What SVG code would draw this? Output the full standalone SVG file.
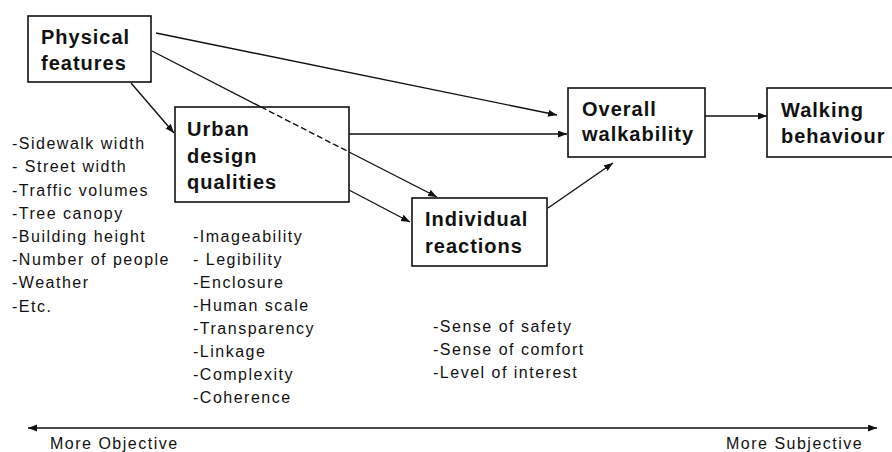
<svg xmlns="http://www.w3.org/2000/svg" width="892" height="452" viewBox="0 0 892 452">
  <style>
    .box { fill: #ffffff; stroke: #111111; stroke-width: 1.6; }
    .title { font-family: "Liberation Sans", Arial, sans-serif; font-size: 20px; font-weight: bold; letter-spacing: 1px; fill: #111111; }
    .item { font-family: "Liberation Sans", Arial, sans-serif; font-size: 16px; letter-spacing: 1.5px; fill: #111111; }
    .link { fill: none; stroke: #111111; stroke-width: 1.4; }
    .dash { stroke-dasharray: 6 3; }
  </style>
  <defs>
    <marker id="arrow" markerUnits="userSpaceOnUse" markerWidth="10" markerHeight="8" refX="9" refY="3.5" orient="auto-start-reverse">
      <path d="M0,0 L9,3.5 L0,7 z" fill="#111111"/>
    </marker>
  </defs>

  <rect width="892" height="452" fill="#ffffff"/>

  <!-- nodes -->
  <g id="physical-features">
    <rect class="box" x="28" y="16" width="123" height="66"/>
    <text class="title" x="41" y="44">Physical</text>
    <text class="title" x="41" y="70">features</text>
  </g>

  <g id="urban-design-qualities">
    <rect class="box" x="175" y="107" width="174" height="95"/>
    <text class="title" x="187" y="136">Urban</text>
    <text class="title" x="187" y="163">design</text>
    <text class="title" x="187" y="189">qualities</text>
  </g>

  <g id="individual-reactions">
    <rect class="box" x="412" y="198" width="135" height="68"/>
    <text class="title" x="425" y="226">Individual</text>
    <text class="title" x="425" y="253">reactions</text>
  </g>

  <g id="overall-walkability">
    <rect class="box" x="568" y="88" width="137" height="69"/>
    <text class="title" x="582" y="116">Overall</text>
    <text class="title" x="582" y="141">walkability</text>
  </g>

  <g id="walking-behaviour">
    <rect class="box" x="767" y="88" width="130" height="69"/>
    <text class="title" x="781" y="117">Walking</text>
    <text class="title" x="781" y="143">behaviour</text>
  </g>

  <!-- connectors (drawn over the boxes so the dashed pass-through shows) -->
  <g id="connectors">
    <line class="link" x1="156" y1="33" x2="557" y2="115" marker-end="url(#arrow)"/>
    <line class="link" x1="131" y1="83" x2="174" y2="133" marker-end="url(#arrow)"/>
    <line class="link" x1="152" y1="51" x2="261" y2="107"/>
    <line class="link dash" x1="261" y1="107" x2="349" y2="152"/>
    <line class="link" x1="349" y1="152" x2="437" y2="197" marker-end="url(#arrow)"/>
    <line class="link" x1="349" y1="134" x2="567" y2="134" marker-end="url(#arrow)"/>
    <line class="link" x1="349" y1="190" x2="410" y2="222" marker-end="url(#arrow)"/>
    <line class="link" x1="548" y1="208" x2="613" y2="163" marker-end="url(#arrow)"/>
    <line class="link" x1="705" y1="116" x2="767" y2="116" marker-end="url(#arrow)"/>
    <line class="link" x1="28" y1="428" x2="877" y2="428" marker-start="url(#arrow)" marker-end="url(#arrow)"/>
  </g>

  <!-- attribute lists -->
  <g id="physical-list" class="item">
    <text x="12" y="149">-Sidewalk width</text>
    <text x="12" y="172">- Street width</text>
    <text x="12" y="196">-Traffic volumes</text>
    <text x="12" y="219">-Tree canopy</text>
    <text x="12" y="242">-Building height</text>
    <text x="12" y="265">-Number of people</text>
    <text x="12" y="288">-Weather</text>
    <text x="12" y="312">-Etc.</text>
  </g>

  <g id="urban-list" class="item">
    <text x="193" y="242">-Imageability</text>
    <text x="193" y="265">- Legibility</text>
    <text x="193" y="288">-Enclosure</text>
    <text x="193" y="311">-Human scale</text>
    <text x="193" y="334">-Transparency</text>
    <text x="193" y="357">-Linkage</text>
    <text x="193" y="380">-Complexity</text>
    <text x="193" y="403">-Coherence</text>
  </g>

  <g id="reactions-list" class="item">
    <text x="433" y="332">-Sense of safety</text>
    <text x="433" y="355">-Sense of comfort</text>
    <text x="433" y="378">-Level of interest</text>
  </g>

  <!-- objective / subjective scale -->
  <g id="scale-labels" class="item">
    <text x="50" y="449">More Objective</text>
    <text x="726" y="449">More Subjective</text>
  </g>
</svg>
